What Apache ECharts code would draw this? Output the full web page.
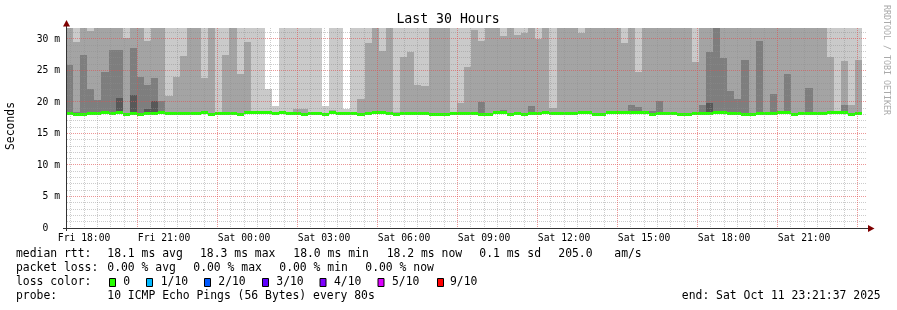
<!DOCTYPE html>
<html><head><meta charset="utf-8">
<script src="https://cdn.jsdelivr.net/npm/echarts@6/dist/echarts.min.js"></script>
<style>html,body{margin:0;padding:0;background:#fff}#c{width:897px;height:310px}</style>
</head><body><div id="c"></div>
<script>
const FONT = 'DejaVu Sans Mono';
// time in hours since Fri 00:00
const startHour = 17 + 21/60 + 37/3600;   // Fri 17:21:37
const endHour = startHour + 30;           // Sat 23:21:37
const firstColumnHour = 17 + 19/60;       // first 16-minute consolidated row
const columnMinutes = 16;
const yMax = 31.746;
const xLabelHours = [18,21,24,27,30,33,36,39,42,45];
const majorTimeGrid = [20,23,26,29,32,35,38,41,44,47];
const majorValueGrid = [5,10,15,20,25,30];

// smoke: top of each shade band (ms); 32 = above the visible top
const maxPing = [
 32,32,32,32,32,32,32,32,32,32,32,32,32,32,32,32,
 32,32,32,32,32,32,32,32,32,32,32,32,22.0,19.4,32,32,
 32,32,32,32,19.4,32,32,18.9,32,32,32,32,32,32,32,32,
 32,32,32,32,32,32,32,32,32,32,32,32,32,32,32,32,
 32,32,32,32,32,32,32,32,32,32,32,32,32,32,32,32,
 32,32,32,32,32,32,32,32,32,32,32,32,32,32,32,32,
 32,32,32,32,32,32,32,32,32,32,32,32,32,32,32,32];
const ping9 = [
 32,29.6,32,31.3,32,32,32,32,30.2,32,32,29.7,32,32,21.0,24.0,
 27.3,32,32,23.8,32,18.4,27.5,32,24.4,29.6,18.4,18.4,18.3,18.3,18.4,18.3,
 18.9,18.9,18.4,18.3,18.3,18.7,18.4,18.3,18.3,20.5,29.4,32,28.1,32,18.4,27.1,
 27.9,22.7,22.5,32,32,32,18.4,19.9,25.6,31.5,29.7,32,32,30.5,32,30.7,
 31.0,32,30.0,32,19.1,32,32,32,31.0,32,32,32,32,32,29.4,32,
 24.7,32,32,32,32,32,32,32,26.4,32,32,32,32,32,32,32,
 32,32,32,32,32,32,32,32,32,32,32,27.1,18.5,26.5,19.5,26.7];
const ping8 = [
 25.9,18.4,27.5,22.1,20.3,24.8,28.25,28.25,18.0,28.5,24.0,22.7,23.8,20.1,18.0,18.0,
 18.0,18.0,18.0,18.0,18.0,18.0,18.0,18.0,18.0,18.0,18.0,18.0,18.0,18.0,18.0,18.0,
 18.0,18.0,18.0,18.0,18.0,18.0,18.0,18.0,18.0,18.0,18.0,18.0,18.0,18.0,18.0,18.0,
 18.0,18.0,18.0,18.0,18.0,18.0,18.0,18.0,18.0,18.0,20.0,18.0,18.0,18.7,18.0,18.0,
 18.0,19.4,18.0,18.5,18.0,18.4,18.4,18.0,18.0,18.5,18.0,18.0,18.0,18.0,18.0,19.5,
 19.2,18.0,18.6,20.2,18.3,18.0,18.0,18.0,18.0,19.5,27.9,32,27.0,21.7,20.5,26.7,
 18.0,29.7,18.0,21.3,18.5,24.4,18.0,18.0,22.2,18.0,18.0,18.0,18.0,19.5,18.0,18.0];
const ping7 = [
 18,18,18,18,18,18,18,20.6,18,21.1,18,18.9,20.1,18,18,18,
 18,18,18,18,18,18,18,18,18,18,18,18,18,18,18,18,
 18,18,18,18,18,18,18,18,18,18,18,18,18,18,18,18,
 18,18,18,18,18,18,18,18,18,18,18,18,18,18,18,18,
 18,18,18,18,18,18,18,18,18,18,18,18,18,18,18,18,
 18,18,18,18,18,18,18,18,18,18,19.8,18,18,18,18,18,
 18,18,18,18,18,18,18,18,18,18,18,18,18,18,18,18];
const medianRtt = [
 18.17,18.0,18.0,18.17,18.17,18.3,18.17,18.3,18.0,18.17,18.0,18.17,18.17,18.3,18.17,18.17,
 18.17,18.17,18.17,18.3,18.0,18.17,18.17,18.17,18.0,18.3,18.3,18.3,18.3,18.17,18.3,18.17,
 18.17,18.0,18.17,18.17,18.0,18.3,18.17,18.17,18.17,18.0,18.17,18.3,18.3,18.17,18.0,18.17,
 18.17,18.17,18.17,18.0,18.0,18.0,18.17,18.17,18.17,18.17,18.0,18.0,18.3,18.3,18.0,18.17,
 18.0,18.17,18.17,18.3,18.17,18.17,18.17,18.17,18.3,18.3,18.0,18.0,18.3,18.3,18.3,18.3,
 18.3,18.3,18.0,18.17,18.17,18.17,18.0,18.0,18.17,18.17,18.17,18.3,18.3,18.17,18.17,18.0,
 18.0,18.17,18.17,18.17,18.3,18.3,18.0,18.17,18.17,18.17,18.17,18.3,18.3,18.3,18.0,18.17];

const smokeColors = ['#cacaca','#a4a4a4','#7e7e7e','#585858'];
const medianColor = '#26ff00';
const minorGridColor = 'rgba(143,143,143,0.45)';
const majorGridColor = 'rgba(224,80,80,0.6)';

const legendLine1 = [[16,'median rtt:'],[107.3,'18.1 ms avg'],[200,'18.3 ms max'],[293.3,'18.0 ms min'],[386.7,'18.2 ms now'],[479.3,'0.1 ms sd'],[558.3,'205.0'],[614.3,'am/s']];
const legendLine2 = [[16,'packet loss:'],[107.3,'0.00 % avg'],[193.3,'0.00 % max'],[279.3,'0.00 % min'],[365.3,'0.00 % now']];
const lossLabels = ['0','1/10','2/10','3/10','4/10','5/10','9/10'];
const lossColors = ['#26ff00','#00b8ff','#0059ff','#5e00ff','#7e00ff','#dd00ff','#ff0000'];
const lossBoxX = [109,146,204,262,319.5,377.5,437];
const lossTextX = [123.3,160.7,218.3,276.3,334,392,450];

// build data rows
const smokeData = maxPing.map((v, i) => {
  const t0 = firstColumnHour + i * columnMinutes / 60;
  const t1 = t0 + columnMinutes / 60;
  return [t0, t1, v, ping9[i], ping8[i], ping7[i], medianRtt[i]];
});
const minorTimeGrid = [];
for (let h = 17.5; h <= 47.01; h += 0.5) if (majorTimeGrid.indexOf(h) < 0) minorTimeGrid.push(h);
const minorValueGrid = [];
for (let v = 1; v <= 31; v++) if (majorValueGrid.indexOf(v) < 0) minorValueGrid.push(v);

// grid rows [time, value, kind]: 0 minor vertical, 1 minor horizontal, 2 major vertical, 3 major horizontal
const gridRows = [];
minorTimeGrid.forEach(h => gridRows.push([h, 0, 0]));
minorValueGrid.forEach(v => gridRows.push([startHour, v, 1]));
majorTimeGrid.forEach(h => gridRows.push([h, 0, 2]));
majorValueGrid.forEach(v => gridRows.push([startHour, v, 3]));
const gridKinds = gridRows.map(r => r[2]);

function renderSmoke(params, api) {
  const cs = params.coordSys;
  const t0 = api.value(0), t1 = api.value(1);
  let x0 = Math.round(api.coord([t0, 0])[0]);
  let x1 = Math.round(api.coord([t1, 0])[0]);
  x0 = Math.max(x0, cs.x); x1 = Math.min(x1, cs.x + cs.width);
  const w = x1 - x0;
  if (w <= 0) return null;
  const yPx = v => Math.round(api.coord([t0, Math.min(v, yMax)])[1]);
  const med = api.value(6);
  const yLo = yPx(med - 0.1);
  const kids = [];
  for (let k = 0; k < 4; k++) {
    const v = api.value(2 + k);
    if (v > med - 0.1) {
      const yt = yPx(v);
      if (yLo - yt > 0) kids.push({type:'rect', shape:{x:x0, y:yt, width:w, height:yLo-yt}, style:{fill:smokeColors[k]}});
    }
  }
  const yc = api.coord([t0, med])[1];
  kids.push({type:'rect', shape:{x:x0, y:Math.round(yc - 1.5), width:w, height:3}, style:{fill:medianColor}});
  return {type:'group', children: kids};
}
function renderGrid(params, api) {
  const cs = params.coordSys;
  const kind = gridKinds[params.dataIndex];
  const style = {stroke:kind >= 2 ? majorGridColor : minorGridColor, lineWidth:1, lineDash:[1,1]};
  const pt = api.coord([api.value(0), api.value(1)]);
  if (kind === 0 || kind === 2) {
    const x = Math.floor(pt[0]) + 0.5;
    return {type:'line', z2:kind, shape:{x1:x, y1:cs.y, x2:x, y2:cs.y + cs.height}, style};
  }
  const y = Math.floor(pt[1]) + 0.5;
  return {type:'line', z2:kind, shape:{x1:cs.x, y1:y, x2:cs.x + cs.width, y2:y}, style};
}

const graphics = [];
const txt = (x, y, s, opts) => graphics.push(Object.assign({type:'text', x, y, silent:true,
  style:Object.assign({text:s, fill:'#000', font:'11.4px "' + FONT + '"', textAlign:'left', textVerticalAlign:'middle'}, opts || {})}));
txt(448, 20, 'Last 30 Hours', {font:'13.2px "' + FONT + '"', textAlign:'center'});
graphics.push({type:'text', x:11, y:126, rotation:Math.PI/2, silent:true,
  style:{text:'Seconds', fill:'#000', font:'11.4px "' + FONT + '"', textAlign:'center', textVerticalAlign:'middle'}});
graphics.push({type:'text', x:886, y:60, rotation:-Math.PI/2, silent:true,
  style:{text:'RRDTOOL / TOBI OETIKER', fill:'#aaaaaa', font:'8.3px "' + FONT + '"', textAlign:'center', textVerticalAlign:'middle'}});
legendLine1.forEach(([x, s]) => txt(x, 254.5, s));
legendLine2.forEach(([x, s]) => txt(x, 268.5, s));
txt(16, 282.5, 'loss color:');
lossLabels.forEach((s, i) => {
  graphics.push({type:'rect', silent:true, shape:{x:lossBoxX[i] + 0.5, y:278.5, width:6, height:8},
    style:{fill:lossColors[i], stroke:'#000', lineWidth:1}});
  txt(lossTextX[i], 282.5, s);
});
txt(16, 296.5, 'probe:');
txt(107.3, 296.5, '10 ICMP Echo Pings (56 Bytes) every 80s');
txt(880.7, 296.5, 'end: Sat Oct 11 23:21:37 2025', {textAlign:'right'});
// axis lines and arrows
graphics.push({type:'line', silent:true, z:100, shape:{x1:63, y1:228.5, x2:869, y2:228.5}, style:{stroke:'#333', lineWidth:1}});
graphics.push({type:'line', silent:true, z:100, shape:{x1:66.5, y1:231, x2:66.5, y2:26}, style:{stroke:'#333', lineWidth:1}});
graphics.push({type:'polygon', silent:true, z:101, shape:{points:[[868,225],[874.5,228.5],[868,232]]}, style:{fill:'#7f0000'}});
graphics.push({type:'polygon', silent:true, z:101, shape:{points:[[63,26.5],[70,26.5],[66.5,20]]}, style:{fill:'#7f0000'}});

const chart = echarts.init(document.getElementById('c'), null, {renderer:'canvas'});
chart.setOption({
  animation:false,
  backgroundColor:'#ffffff',
  grid:{left:67, right:30, top:28, bottom:82, containLabel:false, outerBoundsMode:'none'},
  xAxis:{type:'value', min:startHour, max:endHour,
    axisLine:{show:false}, axisTick:{show:false}, splitLine:{show:false},
    axisLabel:{customValues:xLabelHours, margin:5, color:'#000', fontFamily:FONT, fontSize:9.7,
      formatter:v => { const h = Math.round(v); return (h < 24 ? 'Fri ' : 'Sat ') + String(h % 24).padStart(2,'0') + ':00'; }}},
  yAxis:{type:'value', min:0, max:yMax, interval:5,
    axisLine:{show:false}, axisTick:{show:false}, splitLine:{show:false},
    axisLabel:{margin:7, color:'#000', fontFamily:FONT, fontSize:9.7, showMaxLabel:false,
      formatter:v => v === 0 ? '0\u00a0\u00a0' : (Math.abs(v % 5) < 1e-6 ? v + ' m' : '')}},
  graphic:graphics,
  series:[
    {type:'custom', coordinateSystem:'cartesian2d', data:smokeData, renderItem:renderSmoke, z:2, silent:true, clip:true,
     encode:{x:[0,1], y:[2]}},
    {type:'custom', coordinateSystem:'cartesian2d', data:gridRows, renderItem:renderGrid, z:3, silent:true,
     encode:{x:0, y:1}}
  ]
});
</script></body></html>
